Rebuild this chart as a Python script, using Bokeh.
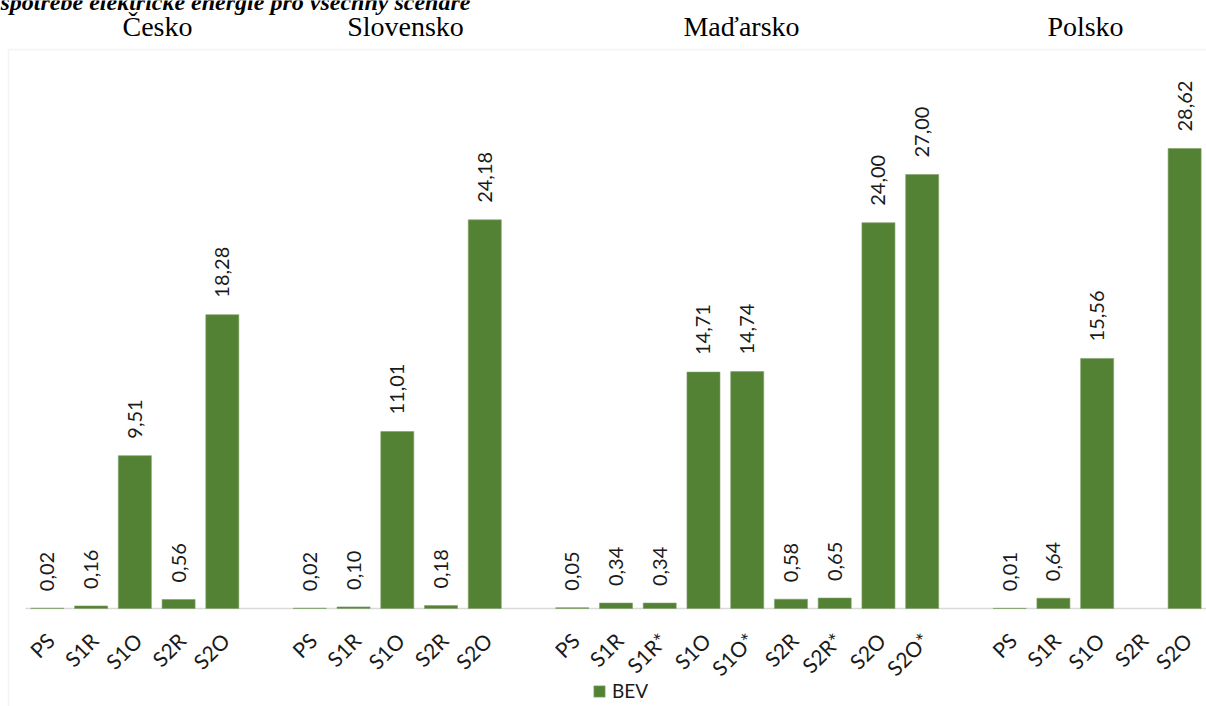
import math
from bokeh.plotting import figure
from bokeh.models import (Range1d, ColumnDataSource, Label,
                          BoxAnnotation, Legend, LegendItem)
from bokeh.core.properties import value
from bokeh.embed import file_html
from bokeh.resources import INLINE

# ---------------- data ----------------
title_text = "spotřebě elektrické energie pro všechny scénáře"
countries = ["Česko", "Slovensko", "Maďarsko", "Polsko"]

scen_cz = ["PS", "S1R", "S1O", "S2R", "S2O"]
bev_cz = [0.02, 0.16, 9.51, 0.56, 18.28]

scen_sk = ["PS", "S1R", "S1O", "S2R", "S2O"]
bev_sk = [0.02, 0.10, 11.01, 0.18, 24.18]

scen_hu = ["PS", "S1R", "S1R*", "S1O", "S1O*", "S2R", "S2R*", "S2O", "S2O*"]
bev_hu = [0.05, 0.34, 0.34, 14.71, 14.74, 0.58, 0.65, 24.00, 27.00]

scen_pl = ["PS", "S1R", "S1O", "S2R", "S2O"]
bev_pl = [0.01, 0.64, 15.56, None, 28.62]

series_name = "BEV"

# ---------------- build slots ----------------
groups = [(scen_cz, bev_cz), (scen_sk, bev_sk), (scen_hu, bev_hu), (scen_pl, bev_pl)]
xs, tops, lbls, cats = [], [], [], []
pos = 0
for scen, vals in groups:
    for s, v in zip(scen, vals):
        xs.append(pos)
        cats.append(s)
        if v is None:
            tops.append(float("nan"))
            lbls.append("")
        else:
            tops.append(v)
            lbls.append(f"{v:.2f}".replace(".", ","))
        pos += 1
    pos += 1  # empty slot between countries
n_slots = pos - 1

src = ColumnDataSource(dict(x=xs, top=tops, lbl=lbls, cat=cats, zero=[0] * len(xs)))

BAR = "#548235"
GRID = "#d9d9d9"
TXT = "#1a1a1a"

W, H = 1206, 706
AXIS_LEFT = 25        # screen x where the category axis starts
BASE_Y = 608          # screen y of the value 0 baseline
px_per_slot = (W - AXIS_LEFT) / n_slots
px_per_unit = 16.073

x0 = -0.5 - AXIS_LEFT / px_per_slot
x1 = n_slots - 0.5
y0 = -(H - BASE_Y) / px_per_unit
y1 = BASE_Y / px_per_unit

p = figure(width=W, height=H, output_backend="svg", toolbar_location=None,
           title=None, x_range=Range1d(x0, x1), y_range=Range1d(y0, y1),
           x_axis_location=None, y_axis_location=None, min_border=0)
p.grid.visible = False
p.outline_line_color = None
p.background_fill_color = "white"
p.border_fill_color = "white"

# chart-area border (left + top edges visible)
p.add_layout(BoxAnnotation(left=8, right=W + 200, top=H - 49, bottom=-400,
                           left_units="screen", right_units="screen",
                           top_units="screen", bottom_units="screen",
                           fill_alpha=0, line_color=GRID, line_width=1.6,
                           level="underlay"))

# category axis line
p.segment(x0=[-0.5], y0=[0], x1=[n_slots - 0.5], y1=[0],
          line_color=GRID, line_width=1.6)

bars = p.vbar(x="x", top="top", width=0.755, source=src,
              fill_color=BAR, line_color="#7fa066", line_width=0.6)

# value labels
p.text(x="x", y="top", text="lbl", source=src, angle=math.pi / 2,
       text_align="left", text_baseline="middle", y_offset=-17,
       text_font=value("Lato"), text_font_size="20px", text_color=TXT)

# category (tick) labels along the axis
p.text(x="x", y="zero", text="cat", source=src, angle=math.pi / 4,
       text_align="right", text_baseline="middle", x_offset=3, y_offset=28,
       text_font=value("Lato"), text_font_size="21px", text_color=TXT)

# country headings
country_x = [157, 405, 741, 1085]
for name, cx in zip(countries, country_x):
    p.add_layout(Label(x=cx, y=H - 26, x_units="screen", y_units="screen",
                       text=name, text_align="center", text_baseline="alphabetic",
                       text_font="Liberation Serif", text_font_size="28px",
                       text_color="black"))

# partially visible title line (cut by the top edge, as in the source)
p.add_layout(Label(x=0, y=H - 1, x_units="screen", y_units="screen",
                   text=title_text, text_align="left", text_baseline="alphabetic",
                   text_font="Liberation Serif", text_font_style="bold italic",
                   text_font_size="24px", text_color="black"))

legend = Legend(items=[LegendItem(label=series_name, renderers=[bars])],
                location=(592, H - 702),
                orientation="horizontal", padding=0, margin=0, spacing=0,
                glyph_width=14, glyph_height=14, label_height=14,
                label_standoff=6, border_line_color=None,
                background_fill_alpha=0,
                label_text_font="Lato", label_text_font_size="19px",
                label_text_color=TXT)
p.add_layout(legend)

open("out.html", "w").write(file_html(p, INLINE))
